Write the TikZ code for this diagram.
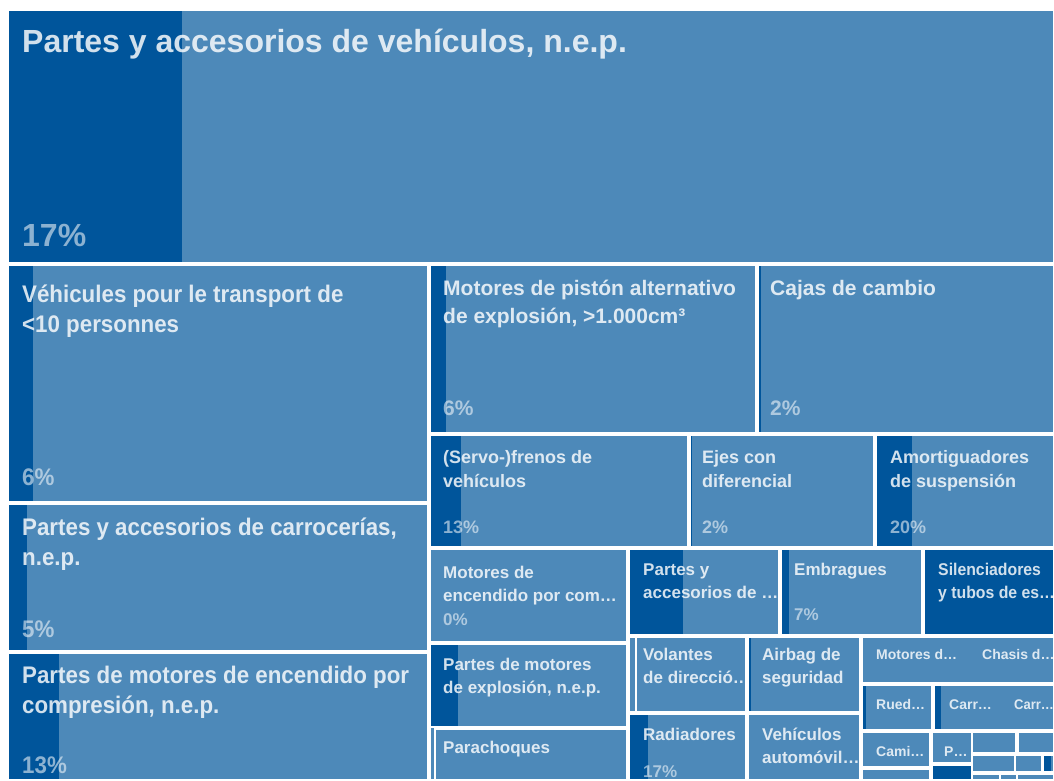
\documentclass[tikz,border=0pt]{standalone}
\usepackage{fontspec}
\setmainfont{Liberation Sans}
\newfontfamily\widefont[FakeStretch=0.93]{Liberation Sans}
\newfontfamily\narrowfont[FakeStretch=0.93]{Liberation Sans}
\usepackage{tikz}
\usetikzlibrary{calc}
\definecolor{tileblue}{HTML}{4D89B9}
\definecolor{bardark}{HTML}{00559B}
\tikzset{
	tile/.style={fill=tileblue},
	bar/.style={fill=bardark},
	gap/.style={draw=white, line width=1.6pt},
	lab/.style={text=white, text opacity=0.82, inner sep=0pt, anchor=base west, align=left},
	pct/.style={text=white, text opacity=0.55, inner sep=0pt, anchor=base west},
	big/.style={font=\bfseries\fontsize{32}{38}\selectfont},
	mid/.style={font=\widefont\bfseries\fontsize{24}{30}\selectfont},
	med/.style={font=\bfseries\fontsize{21}{28}\selectfont},
	sml/.style={font=\bfseries\fontsize{18}{24}\selectfont},
	scl/.style={font=\bfseries\fontsize{17}{23}\selectfont},
	ncl/.style={font=\narrowfont\bfseries\fontsize{17}{23}\selectfont},
	tny/.style={font=\bfseries\fontsize{14}{20}\selectfont},
	ntn/.style={font=\narrowfont\bfseries\fontsize{14}{20}\selectfont},
}
% one tile: corners, width of the dark bar, name
\providecommand{\Tile}[6]{
	\coordinate(#6) at (#1,#2);
	\fill[tile] (#1,#2) rectangle (#3,#4);
	\fill[bar] (#1,#2) rectangle ($ (#1,#4)+(#5,0) $);
	\draw[gap] (#1,#2) rectangle (#3,#4);
}

\begin{document}
\begin{tikzpicture}[x=1pt, y=-1pt]
	\useasboundingbox (0,0) rectangle (1054,780);

	\Tile{8}{10}{1054}{263}{174}{veh}
	\Tile{8}{265}{428}{502}{25}{pers}
	\Tile{8}{504}{428}{651}{19}{carr}
	\Tile{8}{653}{428}{780}{51}{comp}
	\Tile{430}{265}{756}{433}{16}{pist}
	\Tile{758}{265}{1054}{433}{3}{caja}
	\Tile{430}{435}{688}{547}{31}{fren}
	\Tile{690}{435}{874}{547}{2}{ejes}
	\Tile{876}{435}{1054}{547}{36}{amor}
	\Tile{430}{549}{627}{642}{0}{menc}
	\Tile{430}{644}{627}{780}{0}{grpa}
	\Tile{430}{644}{627}{727}{28}{pexp}
	\Tile{435}{729}{627}{780}{0}{para}
	\Tile{629}{549}{779}{635}{54}{pacc}
	\Tile{781}{549}{922}{635}{8}{embr}
	\Tile{924}{549}{1054}{635}{130}{sile}
	\Tile{629}{637}{746}{712}{0}{grpb}
	\Tile{636}{637}{746}{712}{0}{vola}
	\Tile{748}{637}{860}{712}{3}{airb}
	\Tile{629}{714}{746}{780}{19}{radi}
	\Tile{748}{714}{860}{780}{0}{vaut}
	\Tile{862}{637}{1054}{683}{0}{moch}
	\Tile{862}{685}{932}{730}{4}{rued}
	\Tile{934}{685}{1054}{730}{7}{carx}
	\Tile{862}{732}{930}{767}{0}{cami}
	\Tile{862}{769}{930}{780}{0}{rest}
	\Tile{932}{732}{972}{763}{0}{pxxx}
	\Tile{932}{765}{972}{780}{40}{dark}
	\Tile{972}{732}{1016}{753}{0}{sm1}
	\Tile{1018}{732}{1054}{753}{0}{sm2}
	\Tile{972}{755}{1015}{772}{0}{sm3}
	\Tile{1015}{755}{1042}{772}{0}{sm4}
	\Tile{1043}{755}{1054}{772}{8}{sm5}
	\Tile{972}{774}{1000}{780}{0}{sm6}
	\Tile{1000}{774}{1017}{780}{0}{sm7}
	\Tile{1017}{774}{1054}{780}{0}{sm8}

	% labels (base of a two line label is its second line)
	\node[lab, big] (l-veh) at ($ (veh)+(14,42) $) {Partes y accesorios de vehículos, n.e.p.};
	\node[pct, big] (p-veh) at ($ (veh)+(14,236) $) {17\%};
	\node[lab, mid] (l-pers) at ($ (pers)+(14,67) $) {Véhicules pour le transport de\\<10 personnes};
	\node[pct, mid] (p-pers) at ($ (pers)+(14,220) $) {6\%};
	\node[lab, mid] (l-carr) at ($ (carr)+(14,61) $) {Partes y accesorios de carrocerías,\\n.e.p.};
	\node[pct, mid] (p-carr) at ($ (carr)+(14,133) $) {5\%};
	\node[lab, mid] (l-comp) at ($ (comp)+(14,60) $) {Partes de motores de encendido por\\compresión, n.e.p.};
	\node[pct, mid] (p-comp) at ($ (comp)+(14,120) $) {13\%};

	\node[lab, med] (l-pist) at ($ (pist)+(13,58) $) {Motores de pistón alternativo\\de explosión, >1.000cm³};
	\node[pct, med] (p-pist) at ($ (pist)+(13,150) $) {6\%};
	\node[lab, med] (l-caja) at ($ (caja)+(12,30) $) {Cajas de cambio};
	\node[pct, med] (p-caja) at ($ (caja)+(12,150) $) {2\%};

	\node[lab, sml] (l-fren) at ($ (fren)+(13,52) $) {(Servo-)frenos de\\vehículos};
	\node[pct, sml] (p-fren) at ($ (fren)+(13,98) $) {13\%};
	\node[lab, sml] (l-ejes) at ($ (ejes)+(12,52) $) {Ejes con\\diferencial};
	\node[pct, sml] (p-ejes) at ($ (ejes)+(12,98) $) {2\%};
	\node[lab, sml] (l-amor) at ($ (amor)+(14,52) $) {Amortiguadores\\de suspensión};
	\node[pct, sml] (p-amor) at ($ (amor)+(14,98) $) {20\%};

	\node[lab, scl] (l-menc) at ($ (menc)+(13,52) $) {Motores de\\encendido por com…};
	\node[pct, scl] (p-menc) at ($ (menc)+(13,76) $) {0\%};
	\node[lab, scl] (l-pexp) at ($ (pexp)+(13,49) $) {Partes de motores\\de explosión, n.e.p.};
	\node[lab, scl] (l-para) at ($ (para)+(8,24) $) {Parachoques};
	\node[lab, scl] (l-pacc) at ($ (pacc)+(14,49) $) {Partes y\\accesorios de …};
	\node[lab, scl] (l-embr) at ($ (embr)+(13,26) $) {Embragues};
	\node[pct, scl] (p-embr) at ($ (embr)+(13,71) $) {7\%};
	\node[lab, ncl] (l-sile) at ($ (sile)+(14,49) $) {Silenciadores\\y tubos de es…};
	\node[lab, scl] (l-vola) at ($ (vola)+(7,46) $) {Volantes\\de direcció…};
	\node[lab, scl] (l-airb) at ($ (airb)+(14,46) $) {Airbag de\\seguridad};
	\node[lab, scl] (l-radi) at ($ (radi)+(14,26) $) {Radiadores};
	\node[pct, scl] (p-radi) at ($ (radi)+(14,63) $) {17\%};
	\node[lab, scl] (l-vaut) at ($ (vaut)+(14,49) $) {Vehículos\\automóvil…};

	\node[lab, tny] (l-mot) at ($ (moch)+(14,22) $) {Motores d…};
	\node[lab, tny] (l-cha) at ($ (moch)+(120,22) $) {Chasis d…};
	\node[lab, tny] (l-rued) at ($ (rued)+(14,24) $) {Rued…};
	\node[lab, tny] (l-car1) at ($ (carx)+(15,24) $) {Carr…};
	\node[lab, ntn] (l-car2) at ($ (carx)+(80,24) $) {Carr…};
	\node[lab, tny] (l-cami) at ($ (cami)+(14,24) $) {Cami…};
	\node[lab, tny] (l-pxxx) at ($ (pxxx)+(12,24) $) {P…};
\end{tikzpicture}
\end{document}
